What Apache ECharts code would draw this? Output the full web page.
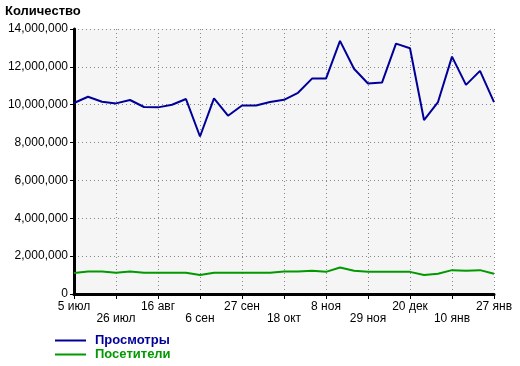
<!DOCTYPE html>
<html><head><meta charset="utf-8">
<script src="https://cdn.jsdelivr.net/npm/echarts@6/dist/echarts.min.js"></script>
<style>html,body{margin:0;padding:0;background:#fff}#c{width:520px;height:366px}</style>
</head><body><div id="c"></div>
<script>
const categories = ['5 июл','12 июл','19 июл','26 июл','2 авг','9 авг','16 авг','23 авг','30 авг','6 сен','13 сен','20 сен','27 сен','4 окт','11 окт','18 окт','25 окт','1 ноя','8 ноя','15 ноя','22 ноя','29 ноя','6 дек','13 дек','20 дек','27 дек','3 янв','10 янв','17 янв','24 янв','27 янв'];
const views = [10090000,10420000,10160000,10070000,10250000,9880000,9860000,10000000,10300000,8320000,10330000,9420000,9960000,9960000,10140000,10260000,10630000,11380000,11380000,13370000,11900000,11120000,11170000,13230000,12980000,9190000,10140000,12540000,11050000,11790000,10140000];
const visitors = [1105000,1190000,1190000,1120000,1190000,1120000,1120000,1120000,1120000,1000000,1120000,1120000,1120000,1120000,1120000,1190000,1190000,1230000,1170000,1400000,1230000,1170000,1170000,1170000,1170000,1000000,1070000,1260000,1230000,1260000,1070000];
const yTicks = {min:0, max:14000000, step:2000000};
const seriesNames = ['Просмотры','Посетители'];
const colors = ['#000099','#009900'];

const chart = echarts.init(document.getElementById('c'));
const F = 'Liberation Sans, Arial, sans-serif';
chart.setOption({
  animation:false,
  title:{text:'Количество', left:5, top:2, padding:[3,0,0,0], textStyle:{fontFamily:F, fontSize:13, fontWeight:'bold', color:'#000'}},
  legend:{orient:'vertical', left:55, top:334, height:32, padding:0, itemWidth:31, itemHeight:2, itemGap:1, icon:'rect',
    textStyle:{fontFamily:F, fontSize:13, fontWeight:'bold', padding:[0,0,0,4], lineHeight:13},
    data:[{name:seriesNames[0], textStyle:{color:colors[0]}},{name:seriesNames[1], textStyle:{color:colors[1]}}]},
  grid:{left:74, right:26, top:29, bottom:72, show:true, backgroundColor:'#f5f5f5', borderWidth:0},
  xAxis:{type:'category', data:categories, boundaryGap:false,
    axisLine:{lineStyle:{color:'#000', width:3}},
    axisTick:{interval:2, length:5, lineStyle:{color:'#000', width:1}},
    axisLabel:{interval:2, margin:7, fontFamily:F, fontSize:12, color:'#000', lineHeight:12,
      formatter:(v,i)=> (Math.round(i/3)%2===1 ? '\n'+v : v)},
    splitLine:{show:true, interval:2, lineStyle:{color:'#888', type:[1,3], width:1}}},
  yAxis:{type:'value', min:yTicks.min, max:yTicks.max, interval:yTicks.step,
    axisLine:{show:true, lineStyle:{color:'#000', width:3}},
    axisTick:{show:true, length:4, lineStyle:{color:'#000'}},
    axisLabel:{margin:6, fontFamily:F, fontSize:12, color:'#000', formatter:v=>v.toLocaleString('en-US')},
    splitLine:{show:true, lineStyle:{color:'#888', type:[1,3], width:1}}},
  series:[
    {name:seriesNames[0], type:'line', data:views, symbol:'none', color:colors[0], lineStyle:{width:2, color:colors[0]}},
    {name:seriesNames[1], type:'line', data:visitors, symbol:'none', color:colors[1], lineStyle:{width:2, color:colors[1]}}
  ]
});
</script></body></html>
